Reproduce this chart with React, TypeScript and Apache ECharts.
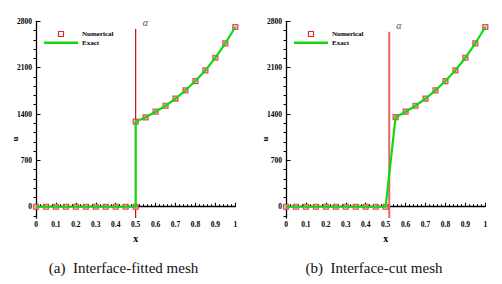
import React, { useEffect, useRef } from "react";
import * as echarts from "echarts";

// ---- data ----
const leftX = [0, 0.05, 0.1, 0.15, 0.2, 0.25, 0.3, 0.35, 0.4, 0.45, 0.5, 0.5, 0.55, 0.6, 0.65, 0.7, 0.75, 0.8, 0.85, 0.9, 0.95, 1];
const leftNumerical = [0, 0, 0, 0, 0, 0, 0, 0, 0, 0, 0, 1284, 1350, 1435, 1525, 1631, 1758, 1898, 2060, 2250, 2468, 2714];
const leftExact = [0, 0, 0, 0, 0, 0, 0, 0, 0, 0, 0, 1284, 1350, 1435, 1525, 1631, 1758, 1898, 2060, 2250, 2468, 2714];

const rightX = [0, 0.05, 0.1, 0.15, 0.2, 0.25, 0.3, 0.35, 0.4, 0.45, 0.5, 0.55, 0.6, 0.65, 0.7, 0.75, 0.8, 0.85, 0.9, 0.95, 1];
const rightNumerical = [0, 0, 0, 0, 0, 0, 0, 0, 0, 0, 0, 1352, 1435, 1525, 1631, 1758, 1898, 2060, 2250, 2468, 2714];
const rightExact = [0, 0, 0, 0, 0, 0, 0, 0, 0, 0, 0, 1352, 1435, 1525, 1631, 1758, 1898, 2060, 2250, 2468, 2714];

const interfaceX = [0.5, 0.518];
const interfaceTop = [2684, 2643];
const yMin = -170;
const yMax = 2800;
const yMajorTicks = [0, 700, 1400, 2100, 2800];
const yMinorTicks = [-140, 140, 280, 420, 560, 840, 980, 1120, 1260, 1540, 1680, 1820, 1960, 2240, 2380, 2520, 2660];
const captions = ["(a)  Interface-fitted mesh", "(b)  Interface-cut mesh"];
const legendNames = ["Numerical", "Exact"];

const GREEN = "#12d812";
const RED = "#e0282c";
const SERIF = "Liberation Serif";
const GRID_LEFT = [36, 286];
const GRID_TOP = 21.3;
const GRID_W = 199.3;
const GRID_H = 196.7;
const lineColors = ["#b81010", "#e8666a"];
const lineWidths = [1.2, 2];

export default function App() {
  const ref = useRef<HTMLDivElement>(null);
  useEffect(() => {
    const chart = echarts.init(ref.current!, null, { renderer: "svg" });
    const panels = [
      { x: leftX, num: leftNumerical, ex: leftExact },
      { x: rightX, num: rightNumerical, ex: rightExact },
    ];
    const grid: any[] = [];
    const xAxis: any[] = [];
    const yAxis: any[] = [];
    const series: any[] = [];
    const graphic: any[] = [];
    const tickFont = { fontFamily: SERIF, fontWeight: "bold", fontSize: 7.5, color: "#000" };

    panels.forEach((p, i) => {
      grid.push({ left: GRID_LEFT[i], top: GRID_TOP, width: GRID_W, height: GRID_H });
      xAxis.push({
        type: "value",
        gridIndex: i,
        min: 0,
        max: 1,
        interval: 0.1,
        name: "x",
        nameLocation: "middle",
        nameGap: 10,
        nameTextStyle: { fontFamily: SERIF, fontWeight: "bold", fontSize: 10, color: "#000" },
        axisLine: { lineStyle: { color: "#000", width: 1.3 } },
        axisTick: { inside: true, length: 4, lineStyle: { color: "#000", width: 1 } },
        minorTick: { show: true, splitNumber: 5, length: 2.5, lineStyle: { color: "#000", width: 1 } },
        axisLabel: { ...tickFont, margin: 2.5, formatter: (v: number) => String(Math.round(v * 10) / 10) },
        splitLine: { show: false },
      });
      yAxis.push({
        type: "value",
        gridIndex: i,
        min: yMin,
        max: yMax,
        axisLine: { onZero: false, lineStyle: { color: "#000", width: 1.3 } },
        axisTick: { inside: true, length: 4.5, customValues: yMajorTicks, lineStyle: { color: "#000", width: 1 } },
        axisLabel: { ...tickFont, margin: 4, customValues: yMajorTicks, formatter: (v: number) => String(v) },
        splitLine: { show: false },
      });
      yAxis.push({
        type: "value",
        gridIndex: i,
        min: yMin,
        max: yMax,
        axisLine: { show: false },
        axisTick: { inside: true, length: 2.5, customValues: yMinorTicks, lineStyle: { color: "#000", width: 1 } },
        axisLabel: { show: false },
        splitLine: { show: false },
      });
      const yIdx = i * 2;
      series.push({
        type: "line",
        xAxisIndex: i,
        yAxisIndex: yIdx,
        data: [
          [interfaceX[i], yMin],
          [interfaceX[i], interfaceTop[i]],
        ],
        symbol: "none",
        lineStyle: { color: lineColors[i], width: lineWidths[i] },
        silent: true,
        z: 1,
      });
      series.push({
        type: "scatter",
        xAxisIndex: i,
        yAxisIndex: yIdx,
        data: [[interfaceX[i], interfaceTop[i]]],
        symbolSize: 0,
        label: {
          show: true,
          formatter: "α",
          position: "right",
          offset: [2, -6],
          fontFamily: SERIF,
          fontStyle: "italic",
          fontSize: 10,
          color: "#222",
        },
        silent: true,
      });
      series.push({
        type: "scatter",
        name: legendNames[0],
        xAxisIndex: i,
        yAxisIndex: yIdx,
        data: p.x.map((x, k) => [x, p.num[k]]),
        symbol: "rect",
        symbolSize: 5,
        itemStyle: { color: "#f7a8a8", borderColor: RED, borderWidth: 1.2 },
        clip: false,
        z: 2,
      });
      series.push({
        type: "line",
        name: legendNames[1],
        xAxisIndex: i,
        yAxisIndex: yIdx,
        data: p.x.map((x, k) => [x, p.ex[k]]),
        symbol: "none",
        lineStyle: { color: GREEN, width: 2.2 },
        z: 3,
      });

      const ox = GRID_LEFT[i];
      const txt = (text: string, x: number, y: number, size: number, weight: string, extra: any = {}) => ({
        type: "text",
        x,
        y,
        ...extra,
        style: {
          text,
          fontFamily: SERIF,
          fontSize: size,
          fontWeight: weight,
          fill: "#000",
          verticalAlign: "middle",
          ...(extra.style || {}),
        },
      });
      // legend
      graphic.push({
        type: "rect",
        shape: { x: ox + 22.5, y: 31.5, width: 5, height: 5 },
        style: { fill: "#fff", stroke: RED, lineWidth: 1.2 },
      });
      graphic.push({
        type: "line",
        shape: { x1: ox + 8, y1: 42.7, x2: ox + 42, y2: 42.7 },
        style: { stroke: GREEN, lineWidth: 2.5 },
      });
      graphic.push(txt(legendNames[0], ox + 46, 34, 7, "bold"));
      graphic.push(txt(legendNames[1], ox + 46, 42.7, 7, "bold"));
      // y label
      graphic.push(txt("u", ox - 21, 139, 9, "bold", { rotation: Math.PI / 2, style: { align: "center" } }));
      // caption
      graphic.push(txt(captions[i], [123.5, 374][i], 268, 15, "normal", { style: { align: "center", fill: "#111" } }));
    });

    chart.setOption({
      animation: false,
      backgroundColor: "#fff",
      grid,
      xAxis,
      yAxis,
      series,
      graphic,
    });
    return () => chart.dispose();
  }, []);
  return <div ref={ref} style={{ position: "absolute", left: 0, top: 0, width: 502, height: 284 }} />;
}
